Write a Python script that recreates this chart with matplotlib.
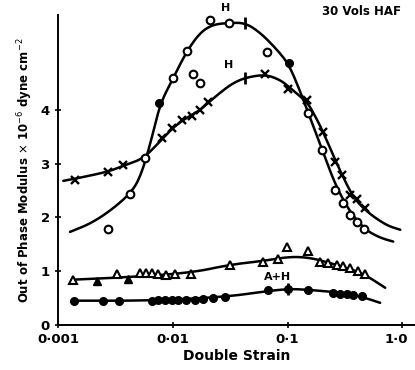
import matplotlib
matplotlib.use("Agg")
import matplotlib.pyplot as plt
import matplotlib.transforms as mtransforms
import numpy as np

# --- upper pair: open circles and crosses ---
circ_x = [0.00273, 0.00425, 0.00573, 0.0101, 0.0133, 0.0212, 0.031, 0.0664,
          0.151, 0.2005, 0.26, 0.305, 0.352, 0.405, 0.466, 0.0150, 0.0173]
circ_y = [1.79, 2.44, 3.11, 4.60, 5.10, 5.68, 5.61, 5.07,
          3.95, 3.26, 2.51, 2.27, 2.05, 1.92, 1.79, 4.66, 4.51]
circ_fill_x = [0.0076, 0.1033]
circ_fill_y = [4.13, 4.88]
circ_fit_x = [0.00127, 0.0019, 0.00284, 0.00425, 0.00519, 0.00634, 0.0077, 0.0101,
              0.0133, 0.0173, 0.0224, 0.031, 0.0427, 0.0577, 0.0811, 0.103, 0.129,
              0.151, 0.2005, 0.26, 0.352, 0.475, 0.641, 0.833]
circ_fit_y = [1.73, 1.88, 2.12, 2.44, 2.74, 3.35, 4.10, 4.60,
              5.10, 5.44, 5.59, 5.62, 5.62, 5.44, 5.12, 4.84, 4.34,
              3.95, 3.26, 2.61, 2.09, 1.77, 1.62, 1.55]

cross_x = [0.00141, 0.00273, 0.00369, 0.00807, 0.00986, 0.01205, 0.01473, 0.0173,
           0.0203, 0.0638, 0.101, 0.148, 0.204, 0.26, 0.299, 0.352, 0.405, 0.475]
cross_y = [2.70, 2.85, 2.98, 3.48, 3.67, 3.82, 3.89, 4.00,
           4.15, 4.66, 4.38, 4.19, 3.59, 3.04, 2.79, 2.42, 2.35, 2.18]
cross_fit_x = [0.00111, 0.00141, 0.00273, 0.00369, 0.00519, 0.00634, 0.00807, 0.00986,
               0.01205, 0.01473, 0.0173, 0.0203, 0.0258, 0.0329, 0.0427, 0.0638,
               0.0861, 0.1054, 0.129, 0.151, 0.1775, 0.204, 0.26, 0.299, 0.352,
               0.405, 0.475, 0.581, 0.753, 0.96]
cross_fit_y = [2.68, 2.72, 2.85, 2.96, 3.07, 3.22, 3.46, 3.65,
               3.80, 3.91, 4.00, 4.13, 4.32, 4.49, 4.60, 4.66,
               4.56, 4.41, 4.25, 4.12, 3.85, 3.59, 3.07, 2.79, 2.48,
               2.29, 2.14, 1.99, 1.84, 1.77]

# --- lower pair: triangles and dots ---
tri_x = [0.00135, 0.00327, 0.00519, 0.00585, 0.00661, 0.00745, 0.00875, 0.01047,
         0.01445, 0.0316, 0.0613, 0.0828, 0.0993, 0.151, 0.1923, 0.226, 0.270,
         0.305, 0.352, 0.413, 0.475]
tri_y = [0.84, 0.95, 0.97, 0.97, 0.97, 0.95, 0.93, 0.95,
         0.95, 1.12, 1.17, 1.23, 1.45, 1.38, 1.17, 1.15, 1.12,
         1.10, 1.06, 1.01, 0.95]
tri_fill_x = [0.00219, 0.00408]
tri_fill_y = [0.82, 0.86]
tri_fit_x = [0.00132, 0.00424, 0.01445, 0.0316, 0.0613, 0.105, 0.157, 0.235, 0.352, 0.475, 0.71]
tri_fit_y = [0.84, 0.89, 0.97, 1.12, 1.19, 1.27, 1.25, 1.15, 1.04, 0.93, 0.69]

dot_x = [0.00138, 0.00247, 0.0034, 0.00661, 0.00745, 0.00857, 0.00986, 0.0111,
         0.01306, 0.01564, 0.01837, 0.0224, 0.0286, 0.0678, 0.101, 0.151,
         0.250, 0.288, 0.331, 0.373, 0.447]
dot_y = [0.45, 0.45, 0.45, 0.45, 0.47, 0.47, 0.47, 0.47,
         0.47, 0.47, 0.48, 0.50, 0.52, 0.65, 0.67, 0.65,
         0.60, 0.58, 0.58, 0.56, 0.54]
dot_fit_x = [0.00132, 0.00634, 0.0286, 0.0678, 0.105, 0.157, 0.288, 0.447, 0.641]
dot_fit_y = [0.45, 0.45, 0.52, 0.63, 0.67, 0.65, 0.60, 0.52, 0.41]

# vertical bar marks on the curves
bar_x = [0.0427, 0.0427, 0.101]
bar_y = [5.62, 4.60, 0.67]

xticks = [0.001, 0.01, 0.1, 1.0]
xlabels = ["0·001", "0·01", "0·1", "1·0"]
yticks = [0, 1, 2, 3, 4]


def smooth(xs, ys, n=3):
    # corner cutting in log-x space so the hand drawn fit lines look round
    p = np.column_stack([np.log10(xs), ys])
    for _ in range(n):
        q = 0.75 * p[:-1] + 0.25 * p[1:]
        r = 0.25 * p[:-1] + 0.75 * p[1:]
        mid = np.empty((2 * len(q), 2))
        mid[0::2] = q
        mid[1::2] = r
        p = np.vstack([p[:1], mid, p[-1:]])
    return 10 ** p[:, 0], p[:, 1]


fig = plt.figure(figsize=(4.15, 3.7), dpi=100)
ax = fig.add_axes([0.140, 0.122, 0.86, 0.838])

lw = 1.8
k = "black"
for fx, fy in [(circ_fit_x, circ_fit_y), (cross_fit_x, cross_fit_y),
               (tri_fit_x, tri_fit_y), (dot_fit_x, dot_fit_y)]:
    sx, sy = smooth(fx, fy)
    ax.plot(sx, sy, color=k, lw=lw, solid_capstyle="round")

ax.plot(circ_x, circ_y, "o", ms=5.5, mfc="white", mec=k, mew=1.5, ls="none")
ax.plot(circ_fill_x, circ_fill_y, "o", ms=5.5, color=k, ls="none")
ax.plot(cross_x, cross_y, "x", ms=6, mec=k, mew=1.7, ls="none")
ax.plot(tri_x, tri_y, "^", ms=5.5, mfc="white", mec=k, mew=1.5, ls="none")
ax.plot(tri_fill_x, tri_fill_y, "^", ms=5.5, color=k, ls="none")
ax.plot(dot_x, dot_y, "o", ms=5.5, color=k, ls="none")
ax.plot(bar_x, bar_y, "|", ms=9, mew=2, color=k, ls="none")

tf = dict(fontsize=8, fontweight="bold", color=k)
ax.text(0.0286, 5.80, "H", ha="center", va="bottom", **tf)
ax.text(0.0305, 4.75, "H", ha="center", va="bottom", **tf)
ax.text(0.081, 0.80, "A+H", ha="center", va="bottom", **tf)
ax.text(0.97, 5.95, "30 Vols HAF", ha="right", va="top", fontsize=8.5,
        fontweight="bold", color=k)

ax.set_xscale("log")
ax.set_xlim(0.001, 1.29)
ax.set_ylim(0, 5.77)
ax.set_xticks(xticks)
ax.set_xticklabels(xlabels)
ax.minorticks_off()
ax.set_yticks(yticks)
ax.tick_params(axis="both", direction="inout", length=5, width=1.2,
               labelsize=9.5)
for lab in ax.get_xticklabels() + ax.get_yticklabels():
    lab.set_fontweight("bold")
# keep the last x label inside the figure
last = ax.get_xticklabels()[-1]
last.set_transform(last.get_transform() +
                   mtransforms.ScaledTranslation(-4 / 72, 0, fig.dpi_scale_trans))
ax.spines["top"].set_visible(False)
ax.spines["right"].set_visible(False)
ax.spines["left"].set_linewidth(1.4)
ax.spines["bottom"].set_linewidth(1.4)
ax.set_xlabel("Double Strain", fontsize=10, fontweight="bold", labelpad=2)
ax.set_ylabel("Out of Phase Modulus $\\times$ 10$^{-6}$ dyne cm$^{-2}$",
              fontsize=8.5, fontweight="bold", labelpad=4)

fig.savefig("out.png", dpi=100)
